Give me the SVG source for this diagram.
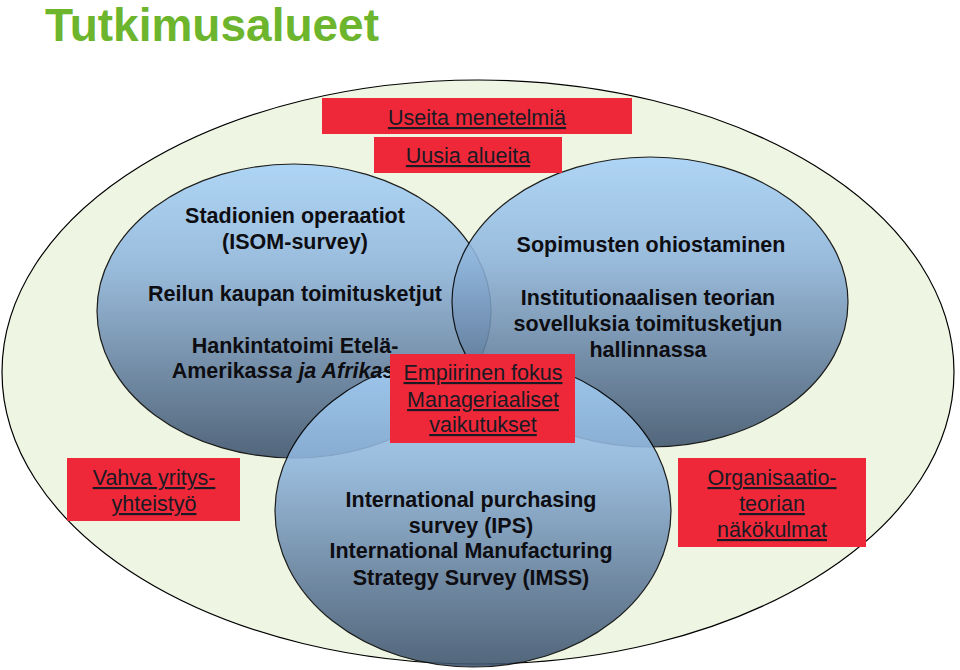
<svg xmlns="http://www.w3.org/2000/svg" width="960" height="670" viewBox="0 0 960 670">
<defs>
<linearGradient id="blue" x1="0" y1="0" x2="0" y2="1">
<stop offset="0" stop-color="#a6d1f8"/>
<stop offset="0.35" stop-color="#8fb5dc"/>
<stop offset="0.7" stop-color="#637f9f"/>
<stop offset="1" stop-color="#3d536d"/>
</linearGradient>
<style>
.bub{fill:url(#blue);stroke:#000;stroke-width:1.2;opacity:0.88}
.bt{font-family:"Liberation Sans",Arial,sans-serif;font-weight:bold;font-size:21.5px;fill:#0d0d12;text-anchor:middle}
.box{fill:#ee2838}
.lt{font-family:"Liberation Sans",Arial,sans-serif;font-size:21.5px;fill:#1a1a24;text-anchor:middle;text-decoration:underline}
</style>
</defs>
<rect width="960" height="670" fill="#fff"/>
<text x="45" y="41" font-family="Liberation Sans,Arial,sans-serif" font-weight="bold" font-size="46" fill="#6cb52d">Tutkimusalueet</text>
<g id="outer"><ellipse cx="478" cy="372" rx="476" ry="292" fill="#eef5e2" stroke="#000" stroke-width="1.2"/></g>
<g id="connectors"/>
<g id="left-bubble"><ellipse class="bub" cx="294" cy="311" rx="197" ry="147"/></g>
<g id="right-bubble"><ellipse class="bub" cx="650" cy="302" rx="198" ry="145"/></g>
<g id="bottom-bubble"><ellipse class="bub" cx="473" cy="511" rx="198" ry="156"/></g>
<g id="left-text">
<text class="bt" x="295" y="223">Stadionien operaatiot</text>
<text class="bt" x="295" y="249">(ISOM-survey)</text>
<text class="bt" x="295" y="301">Reilun kaupan toimitusketjut</text>
<text class="bt" x="295" y="353">Hankintatoimi Etelä-</text>
<text class="bt" x="295" y="378">Amerika<tspan font-style="italic">ssa ja Afrikassa</tspan></text>
</g>
<g id="right-text">
<text class="bt" x="651" y="252">Sopimusten ohiostaminen</text>
<text class="bt" x="648" y="305">Institutionaalisen teorian</text>
<text class="bt" x="648" y="331">sovelluksia toimitusketjun</text>
<text class="bt" x="648" y="357">hallinnassa</text>
</g>
<g id="bottom-text">
<text class="bt" x="471" y="507">International purchasing</text>
<text class="bt" x="471" y="533">survey (IPS)</text>
<text class="bt" x="471" y="558">International Manufacturing</text>
<text class="bt" x="471" y="585">Strategy Survey (IMSS)</text>
</g>
<g id="box-useita"><rect class="box" x="322" y="98" width="310" height="36"/><text class="lt" x="477" y="125">Useita menetelmiä</text></g>
<g id="box-uusia"><rect class="box" x="374" y="137" width="188" height="36"/><text class="lt" x="468" y="163">Uusia alueita</text></g>
<g id="box-empiirinen"><rect class="box" x="390" y="354" width="185" height="89"/>
<text class="lt" x="483" y="380">Empiirinen fokus</text>
<text class="lt" x="483" y="407">Manageriaaliset</text>
<text class="lt" x="483" y="432">vaikutukset</text></g>
<g id="box-vahva"><rect class="box" x="67" y="458" width="173" height="63"/>
<text class="lt" x="154" y="485">Vahva yritys-</text>
<text class="lt" x="154" y="511">yhteistyö</text></g>
<g id="box-organisaatio"><rect class="box" x="678" y="458" width="188" height="89"/>
<text class="lt" x="772" y="485">Organisaatio-</text>
<text class="lt" x="772" y="511">teorian</text>
<text class="lt" x="772" y="537">näkökulmat</text></g>
</svg>
